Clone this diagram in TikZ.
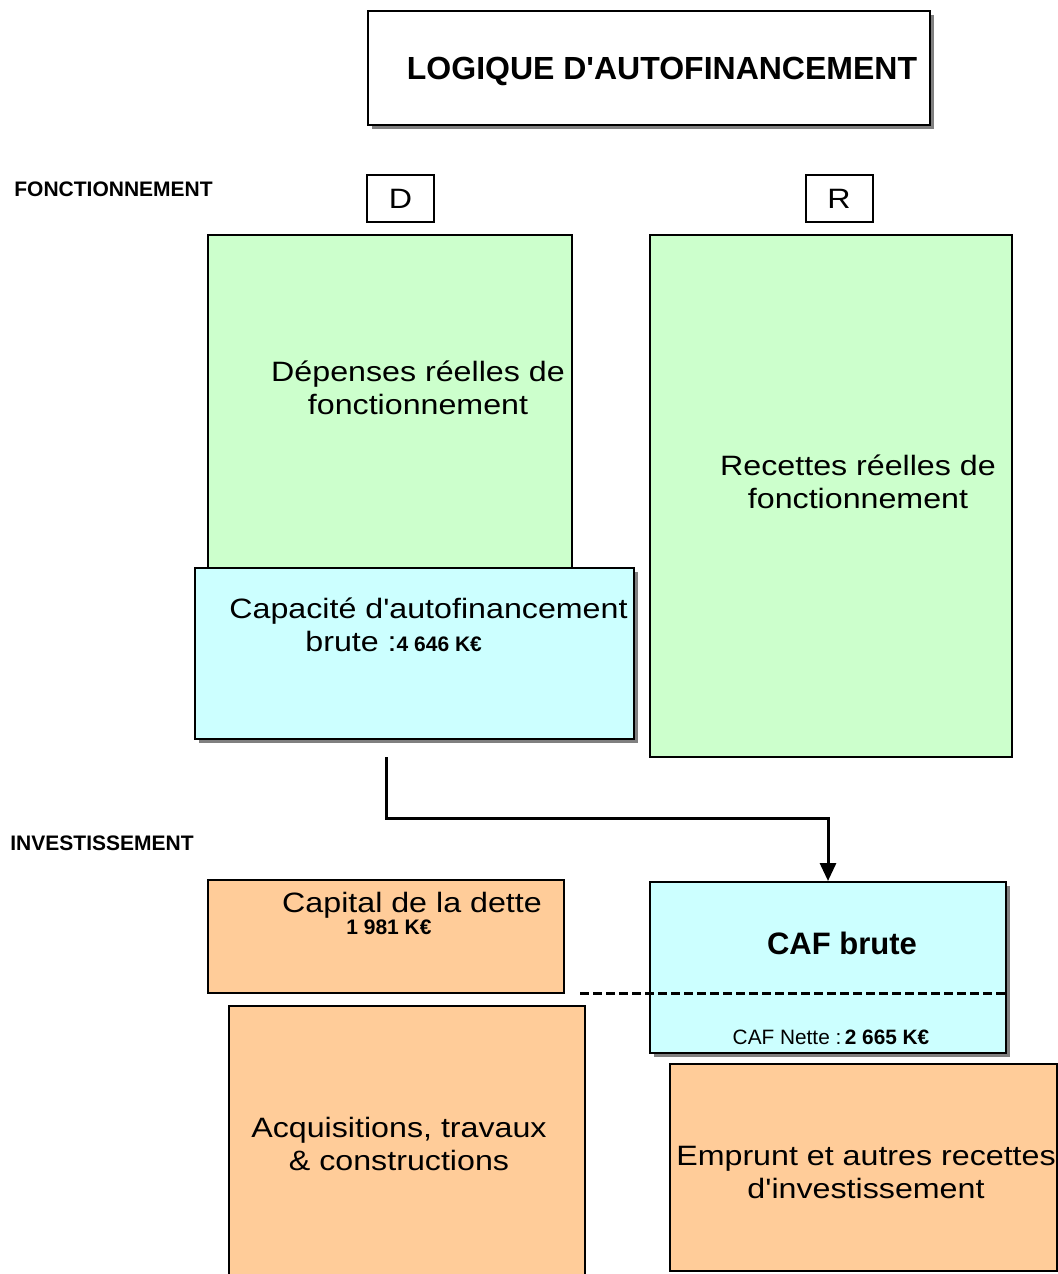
\documentclass[tikz,border=0pt]{standalone}
\usepackage{fontspec}
\setmainfont{Liberation Sans}
\newfontfamily\widesans[FakeStretch=1.15]{Liberation Sans}
\usepackage{tikz}
\usetikzlibrary{shadows}
\usetikzlibrary{positioning}
\usetikzlibrary{arrows.meta}
\definecolor{fonctgreen}{HTML}{CCFFCC}
\definecolor{cafcyan}{HTML}{CCFFFF}
\definecolor{investorange}{HTML}{FFCC99}
\tikzstyle{box}=[rectangle,draw,line width=1pt,inner sep=0pt]
\tikzstyle{shadowbox}=[box,drop shadow={shadow xshift=2pt,shadow yshift=-2pt,fill=black!50,opacity=1}]
\tikzstyle{bigtext}=[font=\widesans\fontsize{14}{16.5}\selectfont,align=center,inner sep=0pt]
\tikzstyle{smallbold}=[font=\bfseries\fontsize{10.5}{12}\selectfont,inner sep=0pt]

\begin{document}
\begin{tikzpicture}[x=0.5pt,y=-0.5pt]
\useasboundingbox (0,0) rectangle (1058,1274);

%title
    \node[shadowbox,fill=white,minimum width=281pt,minimum height=57pt] (title) at (649,68) {};
    \node[font=\bfseries\fontsize{16}{19}\selectfont,inner sep=0pt] (titletext) at (662,71) {LOGIQUE D\textquotesingle AUTOFINANCEMENT};

%fonctionnement
    \node[smallbold,anchor=west] (fonct) at (14,189) {FONCTIONNEMENT};
    \foreach \pos/\name/\letter in {{(400.5,198.5)/dbox/D}, {(839,198.5)/rbox/R}}
        \node[box,minimum width=33.5pt,minimum height=23.5pt,font=\widesans\fontsize{14}{16}\selectfont] (\name) at \pos {\letter};

    \node[box,fill=fonctgreen,minimum width=182pt,minimum height=166.5pt] (depenses) at (390,401.5) {};
    \node[box,fill=fonctgreen,minimum width=181pt,minimum height=261pt] (recettes) at (831,496) {};
    \node[shadowbox,fill=cafcyan,minimum width=219.5pt,minimum height=85.5pt] (capacite) at (414.5,653.5) {};

    \node[bigtext] (deptext) at (418,388) {D\'epenses r\'eelles de\\fonctionnement};
    \node[bigtext] (rectext) at (858,482) {Recettes r\'eelles de\\fonctionnement};
    \node[bigtext,anchor=base west] (captext) at (229,618) {Capacit\'e d'autofinancement};
    \node[bigtext,anchor=base west] (brutetext) at (305,651) {brute :{\normalfont\bfseries\fontsize{10.5}{12}\selectfont 4 646 K€}};

%investissement
    \node[smallbold,anchor=west] (invest) at (10,843) {INVESTISSEMENT};
    \node[box,fill=investorange,minimum width=178pt,minimum height=56.5pt] (capital) at (386,936.5) {};
    \node[shadowbox,fill=cafcyan,minimum width=178pt,minimum height=85.5pt] (caf) at (828,967.5) {};
    \node[box,fill=investorange,minimum width=178pt,minimum height=147pt] (acquis) at (407,1153) {};
    \node[box,fill=investorange,minimum width=193.5pt,minimum height=103.5pt] (emprunt) at (863.5,1167.5) {};

    \coordinate (cafdrop) at (386,757);
    \draw[line width=1.5pt,-{Triangle[length=9pt,width=8pt]}] (cafdrop) -- ++(0,61) -| (caf.north);

    \coordinate (dashstart) at (580,993);
    \draw[line width=1.5pt,dash pattern=on 4.5pt off 2pt] (dashstart) -- (dashstart -| caf.east);

    \node[bigtext,anchor=base] (capitaltext) at (412,912) {Capital de la dette};
    \node[smallbold,anchor=base] (capitalval) at (389,934) {1 981 K€};
    \node[font=\bfseries\fontsize{15.5}{18}\selectfont,inner sep=0pt] (caftext) at (842,943) {CAF brute};
    \node[font=\fontsize{10.4}{12}\selectfont,inner sep=0pt] (nettetext) at (831,1037) {CAF Nette :\,\textbf{2 665 K€}};
    \node[bigtext] (acquistext) at (399,1144) {Acquisitions, travaux\\\& constructions};
    \node[bigtext] (empruntext) at (866,1172) {Emprunt et autres recettes\\d'investissement};

\end{tikzpicture}
\end{document}
